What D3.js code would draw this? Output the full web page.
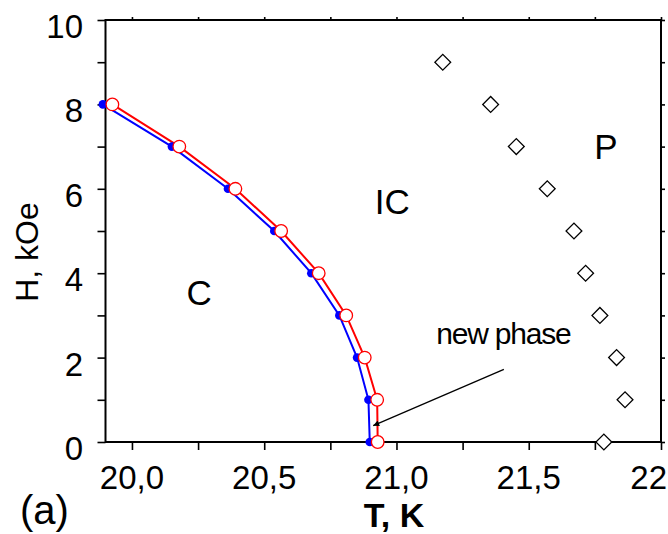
<!DOCTYPE html>
<html>
<head>
<meta charset="utf-8">
<script src="https://cdn.jsdelivr.net/npm/d3@7"></script>
<style>
  html, body { margin: 0; padding: 0; background: #fff; }
  svg { display: block; }
  text { font-family: "Liberation Sans", Arial, sans-serif; }
</style>
</head>
<body>
<svg id="chart" width="668" height="534"></svg>
<script>
// ---- data ----
const fieldH = [8, 7, 6, 5, 4, 3, 2, 1, 0];
const blueT = [19.890, 20.151, 20.363, 20.538, 20.678, 20.784, 20.851, 20.894, 20.899];
const redT  = [19.926, 20.179, 20.391, 20.564, 20.706, 20.810, 20.880, 20.927, 20.929];
const paraH = [9, 8, 7, 6, 5, 4, 3, 2, 1, 0];
const paraT = [21.175, 21.356, 21.453, 21.570, 21.671, 21.715, 21.769, 21.832, 21.864, 21.784];
const xMajorTicks = [20.0, 20.5, 21.0, 21.5, 22.0];
const xTickLabels = ["20,0", "20,5", "21,0", "21,5", "22"];
const xMinorTicks = [20.0, 20.25, 20.5, 20.75, 21.0, 21.25, 21.5, 21.75, 22.0];
const yMajorTicks = [0, 2, 4, 6, 8, 10];
const yAllTicks = [0, 1, 2, 3, 4, 5, 6, 7, 8, 9, 10];
const regionLabels = [
  { text: "C",  T: 20.254, H: 3.25 },
  { text: "IC", T: 20.984, H: 5.4 },
  { text: "P",  T: 21.792, H: 6.7 }
];
const annotation = { text: "new phase", T: 21.404, H: 2.32, fromT: 21.406, fromH: 1.72, toT: 20.912, toH: 0.386 };

// ---- layout ----
const svg = d3.select("#chart");
const L = 105.5, R = 661, T0 = 20, B = 442;
const x = d3.scaleLinear().domain([19.9, 22]).range([L, R]);
const y = d3.scaleLinear().domain([0, 10]).range([B, T0]);

svg.append("rect").attr("width", 668).attr("height", 534).attr("fill", "#fff");

// arrow marker
svg.append("defs").append("marker")
  .attr("id", "arrow").attr("viewBox", "0 0 10 10")
  .attr("refX", 10).attr("refY", 5)
  .attr("markerWidth", 10).attr("markerHeight", 6)
  .attr("markerUnits", "userSpaceOnUse")
  .attr("orient", "auto")
  .append("path").attr("d", "M0,0 L10,5 L0,10 Z").attr("fill", "#000");

function styleAxis(g) {
  g.selectAll(".domain").remove();
  g.selectAll(".tick line").attr("stroke", "#000").attr("stroke-width", 1.6);
}
// bottom ticks
svg.append("g").attr("transform", `translate(0,${B})`)
  .call(d3.axisBottom(x).tickValues(xMinorTicks).tickSize(8).tickFormat(""))
  .call(styleAxis);
// bottom labels (last one is cut at the picture's edge in the reference; only "22" shows)
svg.append("g").selectAll("text").data(xMajorTicks).join("text")
  .attr("x", (d, i) => i === xMajorTicks.length - 1 ? 667 : x(d))
  .attr("y", 489)
  .attr("text-anchor", (d, i) => i === xMajorTicks.length - 1 ? "end" : "middle")
  .attr("font-size", 33).attr("fill", "#000")
  .text((d, i) => xTickLabels[i]);
// top ticks
svg.append("g").attr("transform", `translate(0,${T0})`)
  .call(d3.axisTop(x).tickValues(xMinorTicks).tickSize(3).tickFormat(""))
  .call(styleAxis);
// left ticks
svg.append("g").attr("transform", `translate(${L},0)`)
  .call(d3.axisLeft(y).tickValues(yAllTicks).tickSize(8).tickFormat(""))
  .call(styleAxis);
svg.append("g").selectAll("text").data(yMajorTicks).join("text")
  .attr("x", 83).attr("y", d => y(d) + 18)
  .attr("text-anchor", "end").attr("font-size", 33).attr("fill", "#000")
  .text(d => d);
// right ticks
svg.append("g").attr("transform", `translate(${R},0)`)
  .call(d3.axisRight(y).tickValues(yAllTicks).tickSize(4).tickFormat(""))
  .call(styleAxis);

// frame
svg.append("rect").attr("x", L).attr("y", T0).attr("width", R - L).attr("height", B - T0)
  .attr("fill", "none").attr("stroke", "#000").attr("stroke-width", 2);

// axis titles
svg.append("text").attr("transform", `translate(38,252) rotate(-90)`)
  .attr("text-anchor", "middle").attr("font-size", 32).attr("fill", "#000")
  .text("H, kOe");
svg.append("text").attr("x", 394).attr("y", 527)
  .attr("text-anchor", "middle").attr("font-size", 34).attr("font-weight", "bold").attr("fill", "#000")
  .text("T, K");
svg.append("text").attr("x", 20).attr("y", 524)
  .attr("font-size", 40).attr("fill", "#000")
  .text("(a)");

// lines
const lineGen = d3.line().x(d => x(d[0])).y(d => y(d[1]));
const blueData = blueT.map((t, i) => [t, fieldH[i]]);
const redData = redT.map((t, i) => [t, fieldH[i]]);
svg.append("path").datum(blueData).attr("d", lineGen)
  .attr("fill", "none").attr("stroke", "#0000ff").attr("stroke-width", 2);
svg.append("path").datum(redData).attr("d", lineGen)
  .attr("fill", "none").attr("stroke", "#ff0000").attr("stroke-width", 2);
svg.append("g").selectAll("circle").data(blueData).join("circle")
  .attr("cx", d => x(d[0])).attr("cy", d => y(d[1])).attr("r", 4.3)
  .attr("fill", "#0000ff");
svg.append("g").selectAll("circle").data(redData).join("circle")
  .attr("cx", d => x(d[0])).attr("cy", d => y(d[1])).attr("r", 6.3)
  .attr("fill", "#fff").attr("stroke", "#ff0000").attr("stroke-width", 1.3);

// diamonds
const diamond = d3.symbol().type(d3.symbolSquare).size(125);
svg.append("g").selectAll("path").data(paraT.map((t, i) => [t, paraH[i]])).join("path")
  .attr("d", diamond)
  .attr("transform", d => `translate(${x(d[0])},${y(d[1])}) rotate(45)`)
  .attr("fill", "#fff").attr("stroke", "#000").attr("stroke-width", 1.3);

// region labels
svg.append("g").selectAll("text").data(regionLabels).join("text")
  .attr("x", d => x(d.T)).attr("y", d => y(d.H))
  .attr("text-anchor", "middle").attr("font-size", 35).attr("fill", "#000")
  .text(d => d.text);

// annotation
svg.append("text").attr("x", x(annotation.T)).attr("y", y(annotation.H))
  .attr("text-anchor", "middle").attr("font-size", 30).attr("letter-spacing", -1.2).attr("fill", "#000")
  .text(annotation.text);
svg.append("line")
  .attr("x1", x(annotation.fromT)).attr("y1", y(annotation.fromH))
  .attr("x2", x(annotation.toT)).attr("y2", y(annotation.toH))
  .attr("stroke", "#000").attr("stroke-width", 1.3).attr("marker-end", "url(#arrow)");
</script>
</body>
</html>
